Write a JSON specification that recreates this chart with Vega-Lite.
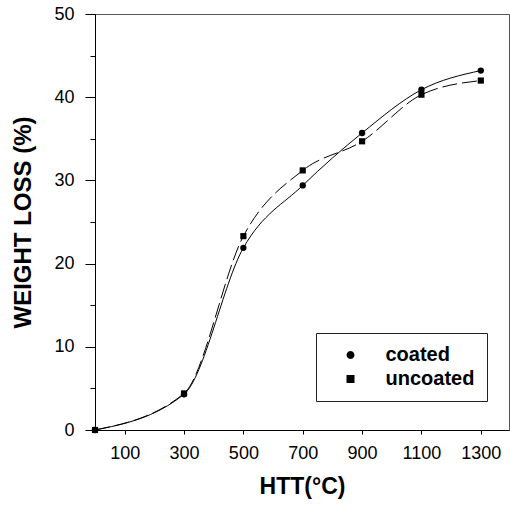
{
  "$schema": "https://vega.github.io/schema/vega-lite/v6.json",
  "width": 414,
  "height": 416,
  "autosize": {"type": "none"},
  "padding": {"left": 95, "top": 14, "right": 1, "bottom": 77},
  "background": "white",
  "config": {
    "font": "Liberation Sans",
    "view": {"stroke": "#555", "strokeWidth": 1},
    "axis": {"domainColor": "black", "domainWidth": 1, "tickColor": "black", "tickWidth": 1, "labelColor": "black", "titleColor": "black", "grid": false, "labelFont": "Liberation Sans", "titleFont": "Liberation Sans"}
  },
  "data": {
    "values": [
      {"series": "coated", "htt": 0, "loss": 0},
      {"series": "coated", "htt": 300, "loss": 4.3},
      {"series": "coated", "htt": 500, "loss": 21.9},
      {"series": "coated", "htt": 700, "loss": 29.4},
      {"series": "coated", "htt": 900, "loss": 35.7},
      {"series": "coated", "htt": 1100, "loss": 40.9},
      {"series": "coated", "htt": 1300, "loss": 43.2},
      {"series": "uncoated", "htt": 0, "loss": 0},
      {"series": "uncoated", "htt": 300, "loss": 4.4},
      {"series": "uncoated", "htt": 500, "loss": 23.3},
      {"series": "uncoated", "htt": 700, "loss": 31.2},
      {"series": "uncoated", "htt": 900, "loss": 34.7},
      {"series": "uncoated", "htt": 1100, "loss": 40.3},
      {"series": "uncoated", "htt": 1300, "loss": 42.0}
    ]
  },
  "encoding": {
    "x": {
      "field": "htt", "type": "quantitative",
      "scale": {"domain": [0, 1395], "nice": false, "zero": false},
      "axis": {"title": "HTT(°C)", "titleFontSize": 23, "titleFontWeight": "bold", "titlePadding": 13, "values": [100, 300, 500, 700, 900, 1100, 1300], "labelFontSize": 18, "tickSize": 4, "labelPadding": 10, "format": "d"}
    },
    "y": {
      "field": "loss", "type": "quantitative",
      "scale": {"domain": [0, 50], "nice": false},
      "axis": {"title": "WEIGHT LOSS (%)", "titleFontSize": 24, "titleFontWeight": "bold", "titlePadding": 18, "values": [0, 5, 10, 15, 20, 25, 30, 35, 40, 45, 50], "labelExpr": "datum.value % 10 === 0 ? datum.label : ''", "labelFontSize": 18, "tickSize": {"condition": {"test": "datum.value % 10 !== 0", "value": 5}, "value": 10}, "labelPadding": 11}
    }
  },
  "layer": [
    {
      "transform": [{"filter": "datum.series === 'coated'"}],
      "mark": {"type": "line", "interpolate": "monotone", "color": "black", "strokeWidth": 1},
      "encoding": {}
    },
    {
      "transform": [{"filter": "datum.series === 'uncoated'"}],
      "mark": {"type": "line", "interpolate": "monotone", "color": "black", "strokeWidth": 1, "strokeDash": [15, 5]},
      "encoding": {}
    },
    {
      "transform": [{"filter": "datum.series === 'coated'"}],
      "mark": {"type": "point", "filled": true, "color": "black", "shape": "circle", "size": 40, "opacity": 1}
    },
    {
      "transform": [{"filter": "datum.series === 'uncoated'"}],
      "mark": {"type": "point", "filled": true, "color": "black", "shape": "square", "size": 38, "opacity": 1}
    },
    {
      "mark": {"type": "point", "filled": false, "fill": "black", "stroke": "black", "strokeWidth": 1, "opacity": 0},
      "encoding": {
        "shape": {
          "field": "series", "type": "nominal",
          "scale": {"domain": ["coated", "uncoated"], "range": ["M-5.5 0L5.5 0M0.8 0L0.693 0.4L0.4 0.693L0 0.8L-0.4 0.693L-0.693 0.4L-0.8 0L-0.693 -0.4L-0.4 -0.693L0 -0.8L0.4 -0.693L0.693 -0.4Z", "M-5.5 0L-3.6 0M-2.6 0L-0.9 0M0.9 0L2.6 0M3.6 0L5.5 0M-0.8 -0.8L0.8 -0.8L0.8 0.8L-0.8 0.8Z"]},
          "legend": {"orient": "none", "legendX": 221, "legendY": 319, "title": null, "padding": 12, "strokeColor": "#222", "fillColor": "white", "labelFontSize": 20, "labelFontWeight": "bold", "labelColor": "black", "labelFont": "Liberation Sans", "symbolOffset": 12.5, "labelOffset": 25, "symbolOpacity": 1, "symbolFillColor": "black", "symbolStrokeColor": "black", "symbolStrokeWidth": 1, "rowPadding": 4}
        },
        "size": {"value": 64}
      }
    }
  ]
}
